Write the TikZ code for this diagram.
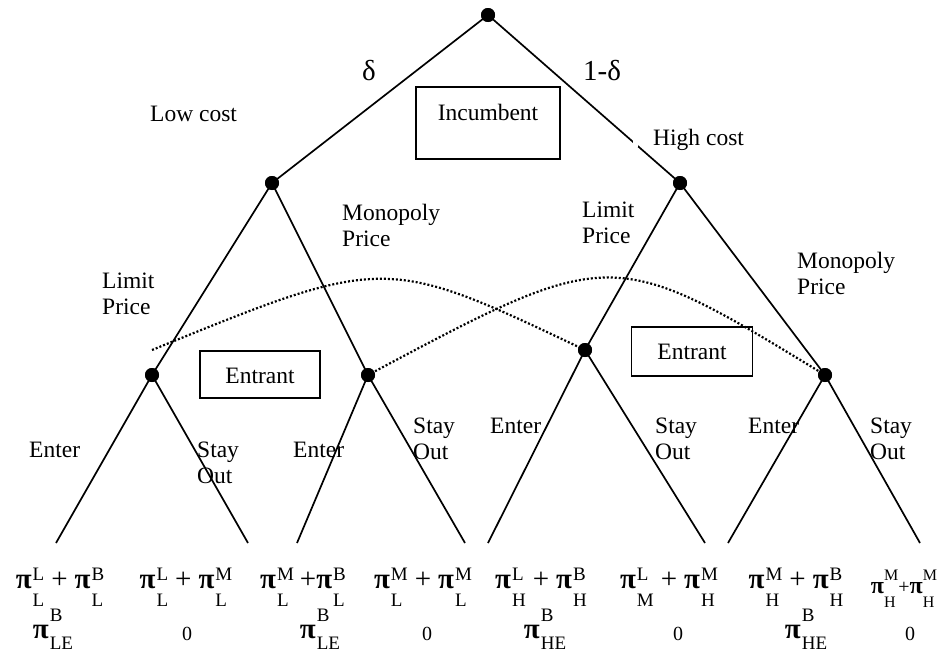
\documentclass[tikz,border=0pt]{standalone}
\usepackage{fontspec}
\setmainfont{Liberation Serif}
\newcommand\lblf{\fontsize{23.5}{26}\selectfont}
\newcommand\delf{\fontsize{29}{30}\selectfont}
\newcommand\pif{\fontsize{29}{29}\selectfont}
\newcommand\pifs{\fontsize{24}{24}\selectfont}
\newcommand\scrf{\fontsize{19}{19}\selectfont}
\newcommand\scrfs{\fontsize{16}{16}\selectfont}
\newcommand\zerof{\fontsize{20}{20}\selectfont}
\newlength\pwa \newlength\pwb
% #1 sup, #2 sub, #3 raise, #4 lower
\newcommand\scripts[4]{\settowidth\pwa{#1}\settowidth\pwb{#2}\ifdim\pwa<\pwb\pwa=\pwb\fi\makebox[\pwa][l]{\rlap{\raisebox{#3}{#1}}\raisebox{-#4}{#2}}}
\newcommand\pa[2]{{\pif\textbf{π}}\kern1pt{\scrf\scripts{#1}{#2}{8pt}{18pt}}}
\newcommand\pb[2]{{\pif\textbf{π}}\kern1pt{\scrf\scripts{#1}{#2}{17pt}{11pt}}}
\newcommand\pc[2]{{\pifs\textbf{π}}{\scrfs\scripts{#1}{#2}{13pt}{14pt}}}
\newcommand\pplus{\hspace{7pt}{\pif +}\hspace{7pt}}
\newcommand\two[2]{\begin{tabular}[t]{@{}l@{}}#1\\#2\end{tabular}}
\begin{document}
\begin{tikzpicture}[x=1pt,y=-1pt,
  dot/.style={circle,fill=black,inner sep=0pt,minimum size=14pt},
  edge/.style={line width=1.7pt},
  lbl/.style={inner sep=0pt,anchor=base west,font=\lblf},
  dlbl/.style={inner sep=0pt,anchor=base west,font=\delf},
  player/.style={draw,line width=1.4pt,inner sep=0pt,anchor=base,font=\lblf},
  payoff/.style={inner sep=0pt,anchor=base},
  info/.style={line width=2.2pt,dash pattern=on 2pt off 2pt}]
\useasboundingbox (0,0) rectangle (940,653);
% decision nodes
\node[dot] (n0) at (488,15) {};
\node[dot] (n1) at (272,183) {};
\node[dot] (n2) at (680,183) {};
\node[dot] (n11) at (152,375) {};
\node[dot] (n12) at (368,375) {};
\node[dot] (n21) at (585,350) {};
\node[dot] (n22) at (825,375) {};
% terminal points
\coordinate (l1) at (56,543);
\coordinate (l2) at (248,543);
\coordinate (l3) at (297,543);
\coordinate (l4) at (465,543);
\coordinate (l5) at (488,543);
\coordinate (l6) at (705,543);
\coordinate (l7) at (728,543);
\coordinate (l8) at (920,543);
% edges
\draw[edge] (n0.center) -- (n1.center);
\draw[edge] (n0.center) -- (n2.center);
\draw[edge] (n1.center) -- (n11.center);
\draw[edge] (n1.center) -- (n12.center);
\draw[edge] (n2.center) -- (n21.center);
\draw[edge] (n2.center) -- (n22.center);
\draw[edge] (n11.center) -- (l1);
\draw[edge] (n11.center) -- (l2);
\draw[edge] (n12.center) -- (l3);
\draw[edge] (n12.center) -- (l4);
\draw[edge] (n21.center) -- (l5);
\draw[edge] (n21.center) -- (l6);
\draw[edge] (n22.center) -- (l7);
\draw[edge] (n22.center) -- (l8);
\fill[white] (632.5,139) rectangle (637.5,147);
% information sets
\coordinate (i1) at (152,350);
\draw[info] (i1) .. controls (385,255) .. (n21.center);
\draw[info] (n12.center) .. controls (612,245) .. (n22.center);
% redraw dots on top
\foreach \n in {n0,n1,n2,n11,n12,n21,n22} \fill (\n) circle (7pt);
% player boxes
\node[player,minimum width=144pt,text height=33pt,text depth=39pt] (inc) at (488,120) {Incumbent};
\node[player,minimum width=120pt,text height=32pt,text depth=15pt] (entL) at (260,383) {Entrant};
\node[player,minimum width=121pt,text height=32pt,text depth=17pt] (entR) at (692,359) {Entrant};
% labels
\node[dlbl] (dl) at (362,80) {δ};
\node[dlbl] (dr) at (583,80) {1-δ};
\node[lbl] (low) at (150,121) {Low cost};
\node[lbl] (high) at (653,145) {High cost};
\node[lbl] (monoL) at (342,220) {\two{Monopoly}{Price}};
\node[lbl] (limL) at (102,288) {\two{Limit}{Price}};
\node[lbl] (limR) at (582,217) {\two{Limit}{Price}};
\node[lbl] (monoR) at (797,268) {\two{Monopoly}{Price}};
\node[lbl] (e1) at (29,457) {Enter};
\node[lbl] (s1) at (197,457) {\two{Stay}{Out}};
\node[lbl] (e2) at (293,457) {Enter};
\node[lbl] (s2) at (413,433) {\two{Stay}{Out}};
\node[lbl] (e3) at (490,433) {Enter};
\node[lbl] (s3) at (655,433) {\two{Stay}{Out}};
\node[lbl] (e4) at (748,433) {Enter};
\node[lbl] (s4) at (870,433) {\two{Stay}{Out}};
% payoffs: incumbent
\node[payoff] (p1) at (60,588) {\pa{L}{L}\pplus\pa{B}{L}};
\node[payoff] (p2) at (186,588) {\pa{L}{L}\pplus\pa{M}{L}};
\node[payoff] (p3) at (303,588) {\pa{M}{L}\hspace{6pt}{\pif +}\pa{B}{L}};
\node[payoff] (p4) at (423,588) {\pa{M}{L}\pplus\pa{M}{L}};
\node[payoff] (p5) at (541,588) {\pa{L}{H}\pplus\pa{B}{H}};
\node[payoff] (p6) at (669,588) {\pa{L}{M}\pplus\pa{M}{H}};
\node[payoff] (p7) at (796,588) {\pa{M}{H}\pplus\pa{B}{H}};
\node[payoff] (p8) at (904,593) {\pc{M}{H}{\fontsize{20}{20}\selectfont +}\pc{M}{H}};
% payoffs: entrant
\node[payoff] (q1) at (53,638) {\pb{B}{LE}};
\node[payoff,font=\zerof] (q2) at (187,640) {0};
\node[payoff] (q3) at (320,638) {\pb{B}{LE}};
\node[payoff,font=\zerof] (q4) at (427,640) {0};
\node[payoff] (q5) at (545,638) {\pb{B}{HE}};
\node[payoff,font=\zerof] (q6) at (678,640) {0};
\node[payoff] (q7) at (806,638) {\pb{B}{HE}};
\node[payoff,font=\zerof] (q8) at (910,640) {0};
\end{tikzpicture}
\end{document}
